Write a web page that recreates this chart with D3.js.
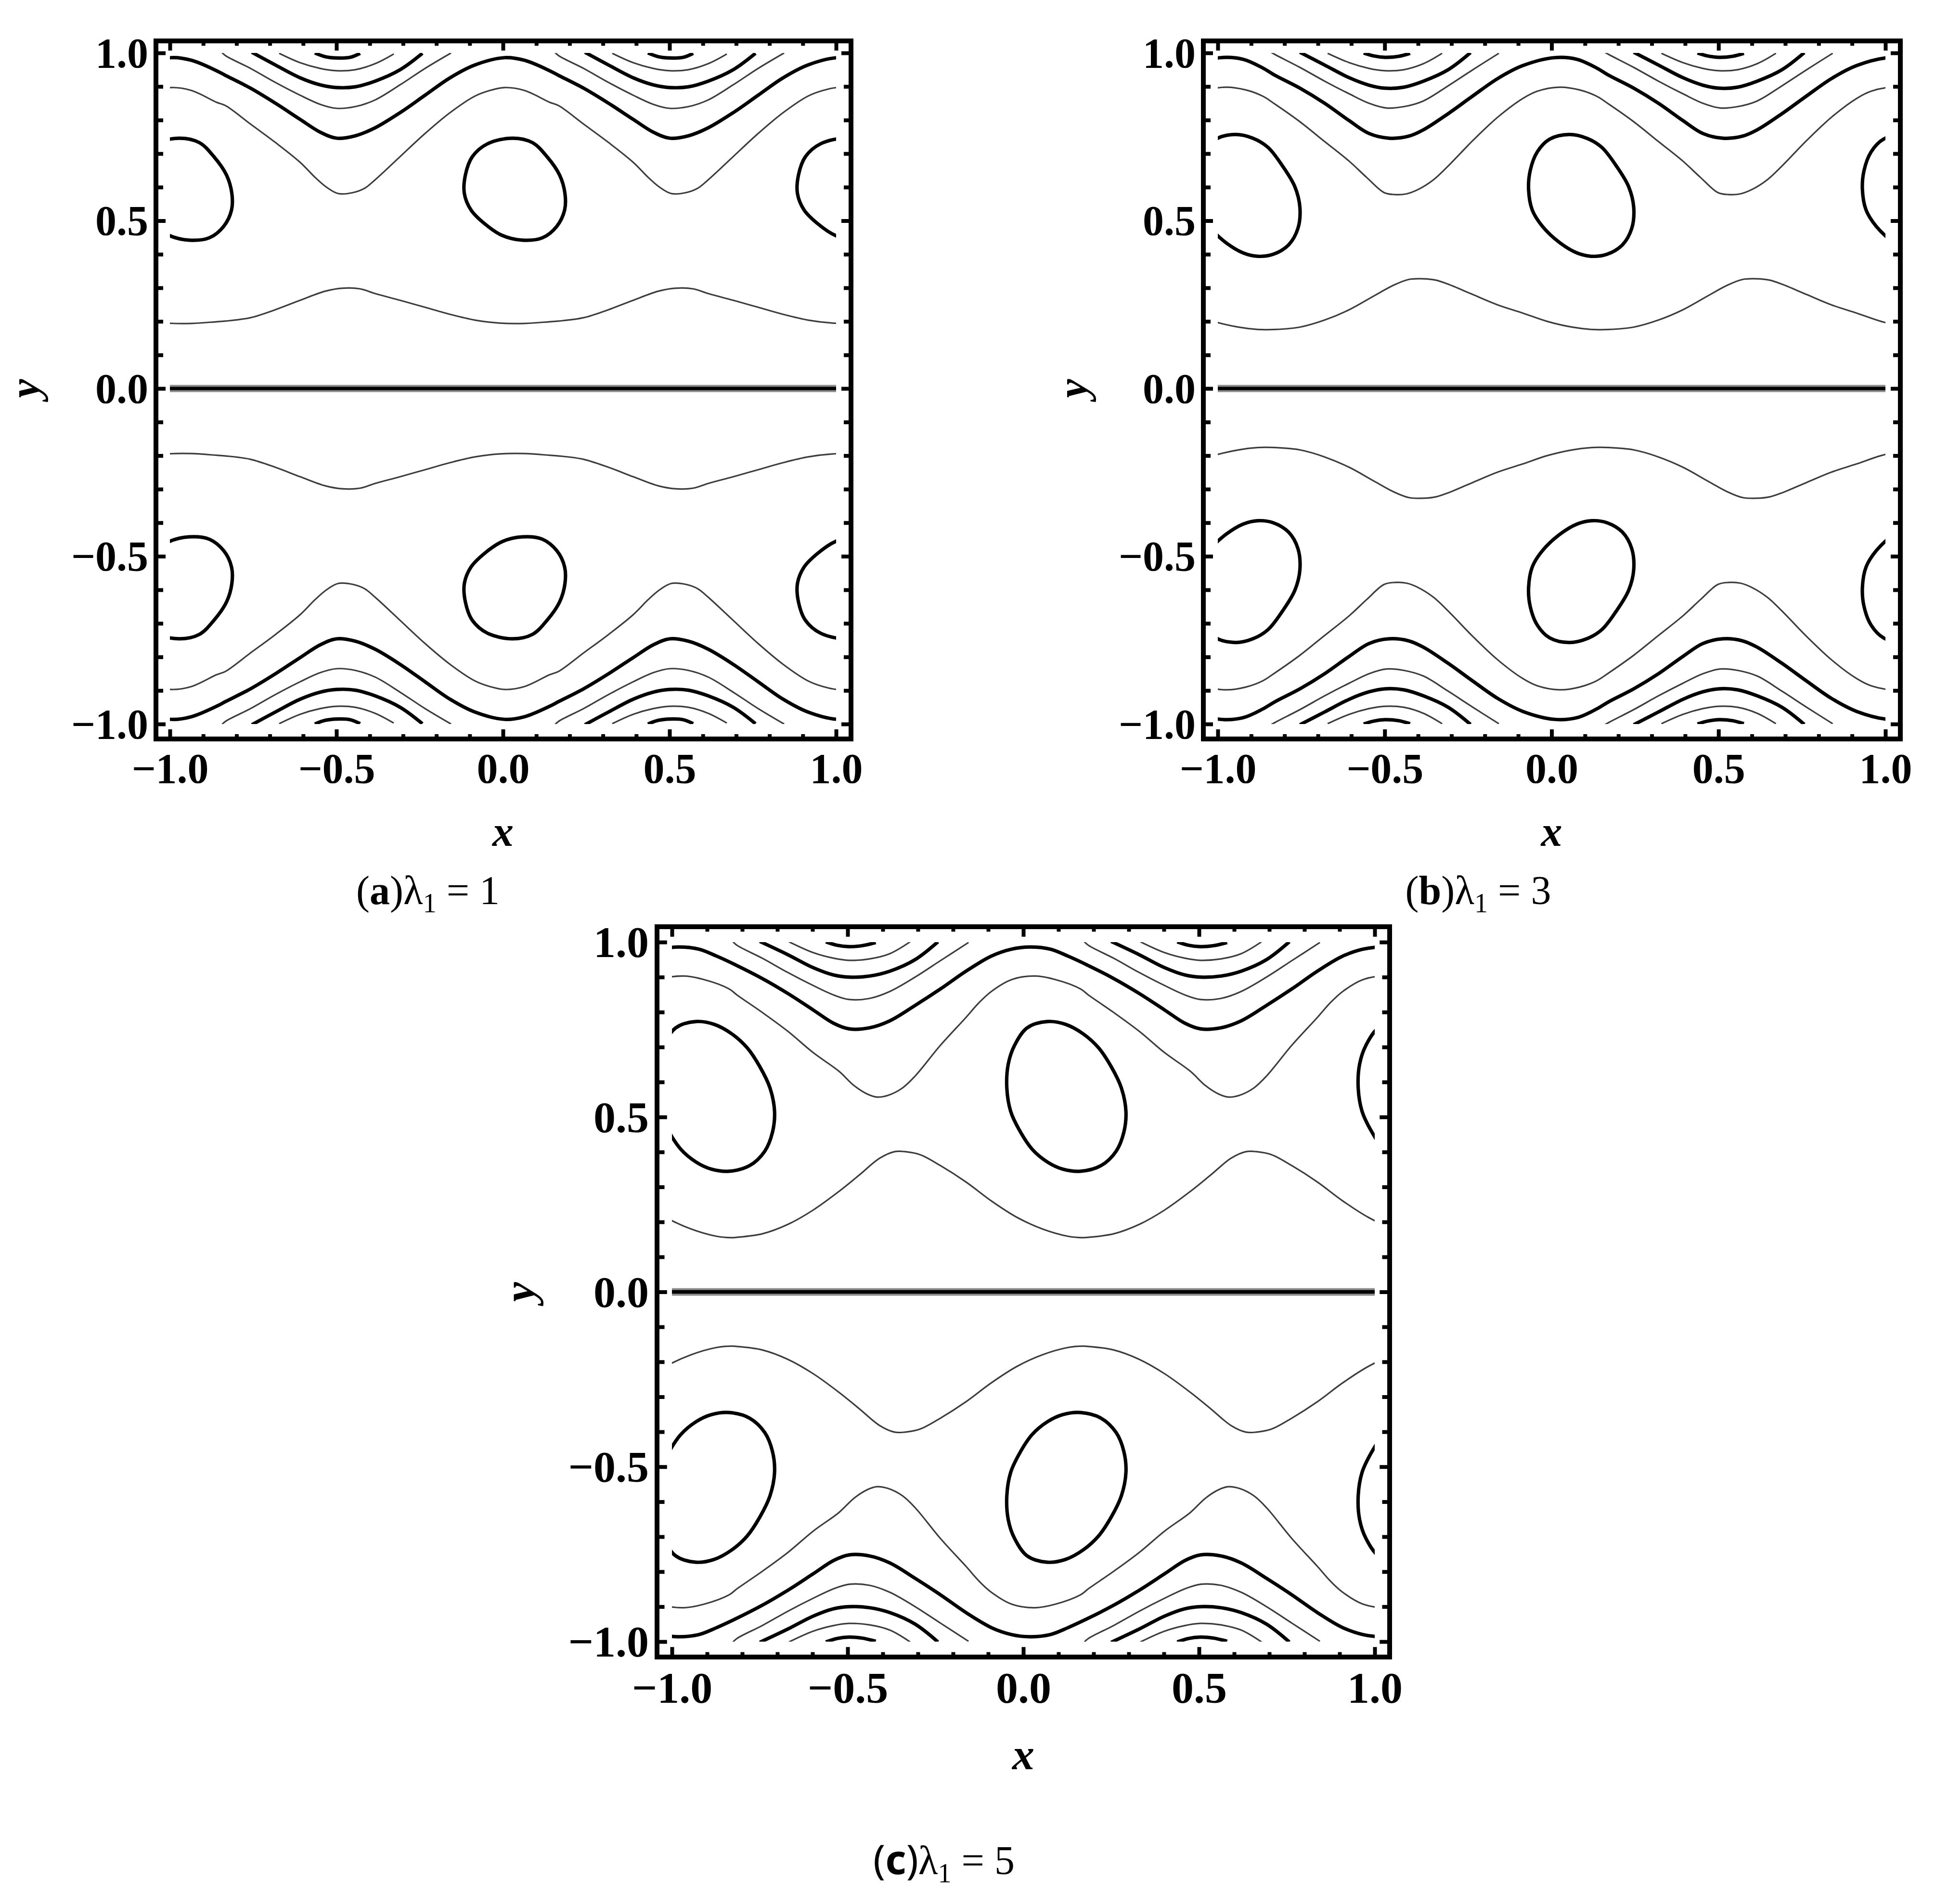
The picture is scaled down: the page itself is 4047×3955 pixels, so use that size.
<!DOCTYPE html>
<html>
<head>
<meta charset="utf-8">
<script src="https://cdn.jsdelivr.net/npm/d3@7"></script>
<style>
  body { margin: 0; background: #fff; }
  svg { display: block; }
</style>
</head>
<body>
<div id="chart"></div>
<script>
// Tick values and labels (same on both axes of every panel)
const majorTicks = [-1, -0.5, 0, 0.5, 1];
const tickLabels = ["\u22121.0", "\u22120.5", "0.0", "0.5", "1.0"];
const minorTicks = [-0.9, -0.8, -0.7, -0.6, -0.4, -0.3, -0.2, -0.1, 0.1, 0.2, 0.3, 0.4, 0.6, 0.7, 0.8, 0.9];

// Captions
const captionLetters = ["a", "b", "c"];
const lambdaValues = [1, 3, 5];

// Streamlines for the upper half (y > 0) and one wavelength in x.
// The flow repeats with period 1 in x and the lower half is the mirror image in y.

// ---- panel (a), lambda1 = 1 ----
const a_thickWave = [[-0.833,0.933],[-0.758,0.895],[-0.683,0.850],[-0.609,0.802],[-0.549,0.764],[-0.500,0.746],[-0.444,0.753],[-0.384,0.777],[-0.309,0.822],[-0.234,0.874],[-0.159,0.926],[-0.085,0.964],[0.005,0.986],[0.065,0.978],[0.140,0.947]];
const a_thinWave = [[-0.833,0.843],[-0.758,0.788],[-0.683,0.733],[-0.609,0.674],[-0.564,0.629],[-0.530,0.600],[-0.495,0.581],[-0.450,0.584],[-0.415,0.597],[-0.384,0.622],[-0.309,0.691],[-0.234,0.760],[-0.159,0.822],[-0.085,0.871],[-0.040,0.888],[0.005,0.897],[0.065,0.888],[0.140,0.853]];
const a_centreWave = [[-0.833,0.201],[-0.758,0.211],[-0.683,0.235],[-0.609,0.263],[-0.534,0.290],[-0.481,0.299],[-0.429,0.297],[-0.384,0.283],[-0.309,0.263],[-0.234,0.242],[-0.159,0.221],[-0.085,0.204],[-0.010,0.195],[0.065,0.194],[0.140,0.199]];
const a_arcThinOuter = [[-0.845,1.003],[-0.833,0.992],[-0.758,0.954],[-0.683,0.912],[-0.609,0.874],[-0.549,0.847],[-0.500,0.835],[-0.444,0.840],[-0.384,0.860],[-0.309,0.905],[-0.234,0.954],[-0.156,1.000]];
const a_arcThick = [[-0.754,1.002],[-0.683,0.964],[-0.609,0.926],[-0.549,0.905],[-0.500,0.897],[-0.444,0.899],[-0.384,0.916],[-0.309,0.950],[-0.242,0.999]];
const a_arcThinInner = [[-0.672,0.999],[-0.609,0.971],[-0.549,0.954],[-0.500,0.947],[-0.444,0.950],[-0.384,0.968],[-0.328,0.997]];
const a_arcThickInner = [[-0.565,1.000],[-0.534,0.989],[-0.500,0.985],[-0.459,0.987],[-0.429,0.999]];
const a_eddy = [[0.028,0.746],[0.088,0.733],[0.132,0.691],[0.170,0.636],[0.186,0.581],[0.185,0.532],[0.162,0.484],[0.118,0.449],[0.058,0.442],[-0.002,0.456],[-0.055,0.491],[-0.096,0.532],[-0.116,0.581],[-0.113,0.636],[-0.092,0.691],[-0.047,0.729]];

// ---- panel (b), lambda1 = 3 ----
const b_thickWave = [[-0.828,0.933],[-0.754,0.895],[-0.680,0.850],[-0.606,0.798],[-0.547,0.760],[-0.487,0.746],[-0.428,0.752],[-0.384,0.771],[-0.310,0.819],[-0.236,0.872],[-0.161,0.924],[-0.087,0.962],[0.009,0.986],[0.076,0.981],[0.135,0.955]];
const b_thinWave = [[-0.828,0.847],[-0.754,0.795],[-0.680,0.736],[-0.606,0.677],[-0.554,0.629],[-0.502,0.584],[-0.470,0.578],[-0.435,0.580],[-0.400,0.593],[-0.354,0.622],[-0.310,0.663],[-0.236,0.739],[-0.161,0.809],[-0.087,0.864],[-0.043,0.886],[0.024,0.898],[0.083,0.890],[0.135,0.871]];
const b_centreWave = [[-0.828,0.176],[-0.754,0.183],[-0.680,0.204],[-0.606,0.235],[-0.532,0.276],[-0.473,0.308],[-0.428,0.325],[-0.384,0.327],[-0.347,0.323],[-0.310,0.311],[-0.236,0.280],[-0.161,0.249],[-0.087,0.225],[-0.013,0.200],[0.061,0.183],[0.120,0.176]];
const b_arcThinOuter = [[-0.842,1.003],[-0.828,0.995],[-0.754,0.957],[-0.680,0.916],[-0.606,0.878],[-0.547,0.850],[-0.495,0.836],[-0.443,0.840],[-0.384,0.857],[-0.310,0.902],[-0.236,0.950],[-0.158,0.999]];
const b_arcThick = [[-0.754,1.002],[-0.680,0.964],[-0.606,0.926],[-0.547,0.904],[-0.499,0.895],[-0.443,0.898],[-0.384,0.916],[-0.310,0.950],[-0.243,1.001]];
const b_arcThinInner = [[-0.671,0.999],[-0.606,0.971],[-0.547,0.954],[-0.499,0.947],[-0.443,0.950],[-0.384,0.968],[-0.328,0.999]];
const b_arcThickInner = [[-0.563,1.000],[-0.532,0.991],[-0.499,0.987],[-0.458,0.990],[-0.424,0.999]];
const b_eddy = [[0.053,0.757],[0.105,0.746],[0.150,0.719],[0.194,0.663],[0.231,0.601],[0.246,0.539],[0.240,0.477],[0.212,0.428],[0.166,0.400],[0.120,0.394],[0.076,0.404],[0.024,0.435],[-0.028,0.484],[-0.058,0.532],[-0.069,0.594],[-0.064,0.650],[-0.043,0.705],[-0.006,0.743]];

// ---- panel (c), lambda1 = 5 ----
const c_thickWave = [[-0.815,0.933],[-0.743,0.896],[-0.670,0.853],[-0.598,0.806],[-0.540,0.768],[-0.496,0.752],[-0.438,0.755],[-0.380,0.775],[-0.308,0.819],[-0.236,0.866],[-0.163,0.917],[-0.091,0.960],[-0.033,0.980],[0.018,0.986],[0.076,0.980],[0.127,0.960]];
const c_thinWave = [[-0.815,0.849],[-0.743,0.799],[-0.670,0.745],[-0.598,0.684],[-0.525,0.631],[-0.482,0.590],[-0.445,0.566],[-0.417,0.557],[-0.385,0.562],[-0.344,0.583],[-0.308,0.617],[-0.236,0.705],[-0.163,0.785],[-0.127,0.826],[-0.091,0.859],[-0.033,0.893],[0.033,0.903],[0.091,0.893],[0.163,0.866]];
const c_centreWave = [[-0.815,0.156],[-0.743,0.166],[-0.670,0.193],[-0.598,0.234],[-0.525,0.287],[-0.467,0.334],[-0.409,0.382],[-0.366,0.401],[-0.337,0.401],[-0.293,0.392],[-0.236,0.361],[-0.163,0.314],[-0.091,0.260],[-0.018,0.213],[0.054,0.180],[0.127,0.159],[0.170,0.155]];
const c_arcThinOuter = [[-0.828,1.003],[-0.815,0.991],[-0.743,0.954],[-0.670,0.913],[-0.598,0.876],[-0.540,0.849],[-0.496,0.836],[-0.438,0.839],[-0.380,0.859],[-0.308,0.900],[-0.236,0.947],[-0.156,0.999]];
const c_arcThick = [[-0.750,1.002],[-0.670,0.964],[-0.598,0.927],[-0.540,0.906],[-0.496,0.900],[-0.438,0.903],[-0.380,0.917],[-0.308,0.950],[-0.243,1.001]];
const c_arcThinInner = [[-0.667,1.001],[-0.598,0.970],[-0.540,0.954],[-0.496,0.948],[-0.438,0.952],[-0.380,0.967],[-0.322,1.001]];
const c_arcThickInner = [[-0.562,1.001],[-0.530,0.991],[-0.496,0.987],[-0.458,0.990],[-0.420,0.999]];
const c_eddy = [[0.069,0.773],[0.120,0.765],[0.170,0.738],[0.214,0.698],[0.250,0.644],[0.279,0.583],[0.292,0.516],[0.286,0.456],[0.264,0.402],[0.221,0.361],[0.163,0.345],[0.112,0.351],[0.069,0.371],[0.025,0.408],[-0.011,0.462],[-0.036,0.516],[-0.047,0.583],[-0.043,0.651],[-0.025,0.705],[0.011,0.755]];

// Panel layout (pixel positions of x = -1..1 and y = -1..1, frame padding)
const panels = [
  { id: "a", xRange: [353, 1737], yRange: [1504, 110], pad: { l: 24, r: 26, t: 20, b: 26 }, font: 88, k: 1, caption: [889, 1878],
    waves: [[a_thickWave, true], [a_thinWave, false], [a_centreWave, false]],
    arcs: [[a_arcThinOuter, false], [a_arcThick, true], [a_arcThinInner, false], [a_arcThickInner, true]],
    eddy: a_eddy },
  { id: "b", xRange: [2530, 3917], yRange: [1504, 110], pad: { l: 25, r: 26, t: 20, b: 26 }, font: 88, k: 1, caption: [3071, 1878],
    waves: [[b_thickWave, true], [b_thinWave, false], [b_centreWave, false]],
    arcs: [[b_arcThinOuter, false], [b_arcThick, true], [b_arcThinInner, false], [b_arcThickInner, true]],
    eddy: b_eddy },
  { id: "c", xRange: [1396, 2856], yRange: [3410, 1957], pad: { l: 26, r: 26, t: 27, b: 27 }, font: 92, k: 1.05, caption: [1961, 3893],
    waves: [[c_thickWave, true], [c_thinWave, false], [c_centreWave, false]],
    arcs: [[c_arcThinOuter, false], [c_arcThick, true], [c_arcThinInner, false], [c_arcThickInner, true]],
    eddy: c_eddy }
];

const serif = "'Liberation Serif', 'Times New Roman', serif";

const svg = d3.select("#chart")
  .append("svg")
  .attr("width", 4047)
  .attr("height", 3955);

// repeat a wavelength at the given x offsets
function tile(points, shifts) {
  return shifts.flatMap(s => points.map(([px, py]) => [px + s, py]));
}

function styleLine(sel, thick) {
  sel.attr("fill", "none")
     .attr("stroke", thick ? "#000" : "#3c3c3c")
     .attr("stroke-width", thick ? 7.2 : 3.2)
     .attr("stroke-linejoin", "round");
}

function drawPanel(p, i) {
  const x = d3.scaleLinear().domain([-1, 1]).range(p.xRange);
  const y = d3.scaleLinear().domain([-1, 1]).range(p.yRange);

  const left = x(-1) - p.pad.l, right = x(1) + p.pad.r;
  const top = y(1) - p.pad.t, bottom = y(-1) + p.pad.b;

  const g = svg.append("g");

  // clip contours to the data range
  g.append("clipPath").attr("id", "clip-" + p.id)
    .append("rect")
    .attr("x", x(-1)).attr("y", y(1))
    .attr("width", x(1) - x(-1)).attr("height", y(-1) - y(1));

  const plot = g.append("g").attr("clip-path", `url(#clip-${p.id})`);

  const openLine = d3.line().x(d => x(d[0])).y(d => y(d[1])).curve(d3.curveCatmullRom.alpha(0.5));
  const closedLine = d3.line().x(d => x(d[0])).y(d => y(d[1])).curve(d3.curveCatmullRomClosed.alpha(0.5));

  [1, -1].forEach(sign => {
    const flip = pts => pts.map(([px, py]) => [px, sign * py]);

    // waves across the whole channel
    p.waves.forEach(([pts, thick]) => {
      plot.append("path")
        .datum(flip(tile(pts, [-1, 0, 1])))
        .attr("d", openLine)
        .call(styleLine, thick);
    });

    // nested arcs near the walls
    p.arcs.forEach(([pts, thick]) => {
      [0, 1].forEach(s => {
        plot.append("path")
          .datum(flip(tile(pts, [s])))
          .attr("d", openLine)
          .call(styleLine, thick);
      });
    });

    // trapped eddies
    [-1, 0, 1].forEach(s => {
      plot.append("path")
        .datum(flip(tile(p.eddy, [s])))
        .attr("d", closedLine)
        .call(styleLine, true);
    });
  });

  // centre line y = 0
  const centre = [[-1, 0], [1, 0]];
  plot.append("path").datum(centre).attr("d", openLine)
    .attr("stroke", "#8c8c8c").attr("stroke-width", 15 * p.k).attr("fill", "none");
  plot.append("path").datum(centre).attr("d", openLine)
    .attr("stroke", "#000").attr("stroke-width", 7 * p.k).attr("fill", "none");

  // frame
  g.append("rect")
    .attr("x", left - 5).attr("y", top - 5)
    .attr("width", right - left + 10).attr("height", bottom - top + 10)
    .attr("fill", "none").attr("stroke", "#000").attr("stroke-width", 10);

  const majorLen = 15 * p.k, minorX = 5 * p.k, minorY = 10 * p.k;
  const fmt = d => tickLabels[majorTicks.indexOf(d)];

  function tidy(axisG) {
    axisG.select(".domain").remove();
    axisG.selectAll(".tick line").attr("stroke", "#000").attr("stroke-width", 8);
  }

  // bottom axis with labels
  const bottomAxis = g.append("g")
    .attr("transform", `translate(0,${bottom})`)
    .call(d3.axisBottom(x).tickValues(majorTicks).tickSize(-majorLen).tickFormat(fmt))
    .call(tidy);
  bottomAxis.selectAll("text")
    .attr("y", p.font * 1.09).attr("dy", null)
    .attr("font-family", serif).attr("font-weight", "bold")
    .attr("font-size", p.font).attr("fill", "#000");

  // left axis with labels
  const leftAxis = g.append("g")
    .attr("transform", `translate(${left},0)`)
    .call(d3.axisLeft(y).tickValues(majorTicks).tickSize(-majorLen).tickFormat(fmt))
    .call(tidy);
  leftAxis.selectAll("text")
    .attr("x", -21 * p.k).attr("dy", null).attr("y", p.font * 0.335)
    .attr("text-anchor", "end")
    .attr("font-family", serif).attr("font-weight", "bold")
    .attr("font-size", p.font).attr("fill", "#000");

  // mirrored major ticks on top and right
  g.append("g").attr("transform", `translate(0,${top})`)
    .call(d3.axisTop(x).tickValues(majorTicks).tickSize(-majorLen).tickFormat(""))
    .call(tidy);
  g.append("g").attr("transform", `translate(${right},0)`)
    .call(d3.axisRight(y).tickValues(majorTicks).tickSize(-majorLen).tickFormat(""))
    .call(tidy);

  // minor ticks on all four sides
  g.append("g").attr("transform", `translate(0,${bottom})`)
    .call(d3.axisBottom(x).tickValues(minorTicks).tickSize(-minorX).tickFormat("")).call(tidy);
  g.append("g").attr("transform", `translate(0,${top})`)
    .call(d3.axisTop(x).tickValues(minorTicks).tickSize(-minorX).tickFormat("")).call(tidy);
  g.append("g").attr("transform", `translate(${left},0)`)
    .call(d3.axisLeft(y).tickValues(minorTicks).tickSize(-minorY).tickFormat("")).call(tidy);
  g.append("g").attr("transform", `translate(${right},0)`)
    .call(d3.axisRight(y).tickValues(minorTicks).tickSize(-minorY).tickFormat("")).call(tidy);

  // axis titles
  g.append("text")
    .attr("x", (x(-1) + x(1)) / 2).attr("y", bottom + 227 * p.k)
    .attr("text-anchor", "middle")
    .attr("font-family", serif).attr("font-style", "italic").attr("font-weight", "bold")
    .attr("font-size", p.font).text("x");

  const yx = x(-1) - 272 * p.k, yy = y(0);
  g.append("text")
    .attr("transform", `translate(${yx},${yy}) rotate(-90)`)
    .attr("text-anchor", "middle")
    .attr("font-family", serif).attr("font-style", "italic").attr("font-weight", "bold")
    .attr("font-size", p.font).text("y");

  // caption
  const cap = g.append("text")
    .attr("x", p.caption[0]).attr("y", p.caption[1])
    .attr("text-anchor", "middle")
    .attr("font-family", serif).attr("font-size", 84).attr("fill", "#000");
  const capFont = p.id === "c" ? "'Noto Sans', 'Open Sans', sans-serif" : serif;
  cap.append("tspan").attr("font-family", capFont).text("(");
  cap.append("tspan").attr("font-family", capFont).attr("font-weight", "bold").text(captionLetters[i]);
  cap.append("tspan").attr("font-family", capFont).text(")");
  cap.append("tspan").text("\u03bb");
  cap.append("tspan").attr("font-size", 56).attr("dy", 17).text("1");
  cap.append("tspan").attr("dy", -17).text(" = " + lambdaValues[i]);
}

panels.forEach(drawPanel);
</script>
</body>
</html>
